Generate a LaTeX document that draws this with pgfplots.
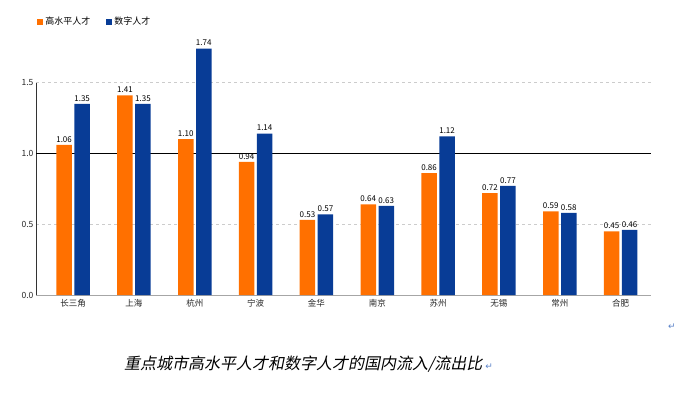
\documentclass[border=0pt]{standalone}
\usepackage{pgfplots}
\pgfplotsset{compat=1.18}
\usepackage{fontspec}
\setmainfont{Noto Sans CJK SC}
\newfontfamily\titlefont[FakeSlant=0.2]{Noto Sans CJK SC}
\newfontfamily\symfont{DejaVu Sans}
\definecolor{myorange}{RGB}{255,112,0}
\definecolor{myblue}{RGB}{8,60,150}
\definecolor{retblue}{RGB}{90,130,200}
\begin{document}
\begin{tikzpicture}
\path (0,0) rectangle (700pt,-392pt);
\begin{axis}[
  at={(36pt,-295pt)}, anchor=south west,
  scale only axis, width=615pt, height=212.4pt,
  xmin=-0.61, xmax=9.5, ymin=0, ymax=1.5,
  clip=false,
  ybar, bar width=15.5pt,
  axis lines=left,
  axis line style={-},
  x axis line style={draw=gray!70},
  y axis line style={draw=black!80},
  xtick={0,...,9},
  xticklabels={长三角,上海,杭州,宁波,金华,南京,苏州,无锡,常州,合肥},
  ytick={0,0.5,1.5},
  extra y ticks={1.0},
  extra y tick style={grid=major, major grid style={draw=black, solid, line width=0.8pt}},
  yticklabel style={/pgf/number format/fixed,/pgf/number format/fixed zerofill,/pgf/number format/precision=1},
  /pgf/number format/assume math mode=true,
  major tick length=0pt,
  tick label style={font=\fontsize{8.5}{10}\selectfont, text=black!85},
  xticklabel style={yshift=-1pt},
  yticklabel style={xshift=1pt},
  ymajorgrids,
  major grid style={draw=gray!40, dashed},
  legend style={at={(-0.003,1.287)}, anchor=west, draw=none, fill=none,
    font=\fontsize{9}{10}\selectfont, legend columns=2,
    /tikz/every even column/.append style={column sep=14pt}},
  legend image code/.code={\fill[#1] (0pt,-3pt) rectangle (6pt,3pt);},
  nodes near coords,
  nodes near coords style={font=\fontsize{8}{9}\selectfont, text=black, /pgf/number format/fixed, /pgf/number format/fixed zerofill, /pgf/number format/precision=2, /pgf/number format/assume math mode=true, yshift=-1pt},
]
\addplot[bar shift=-9pt, fill=myorange, draw=none] coordinates {
(0,1.06) (1,1.41) (2,1.10) (3,0.94) (4,0.53) (5,0.64) (6,0.86) (7,0.72) (8,0.59) (9,0.45)};
\addlegendentry{高水平人才}
\addplot[bar shift=9pt, fill=myblue, draw=none] coordinates {
(0,1.35) (1,1.35) (2,1.74) (3,1.14) (4,0.57) (5,0.63) (6,1.12) (7,0.77) (8,0.58) (9,0.46)};
\addlegendentry{数字人才}
\end{axis}
\node[anchor=west, inner sep=0pt, font=\fontsize{16}{18}\titlefont] at (124pt,-364pt) {重点城市高水平人才和数字人才的国内流入/流出比\hspace{3pt}\textcolor{retblue}{\fontsize{9}{10}\symfont ↵}};
\node[inner sep=0pt, text=retblue, font=\fontsize{9}{10}\symfont] at (672pt,-327pt) {↵};
\end{tikzpicture}
\end{document}
